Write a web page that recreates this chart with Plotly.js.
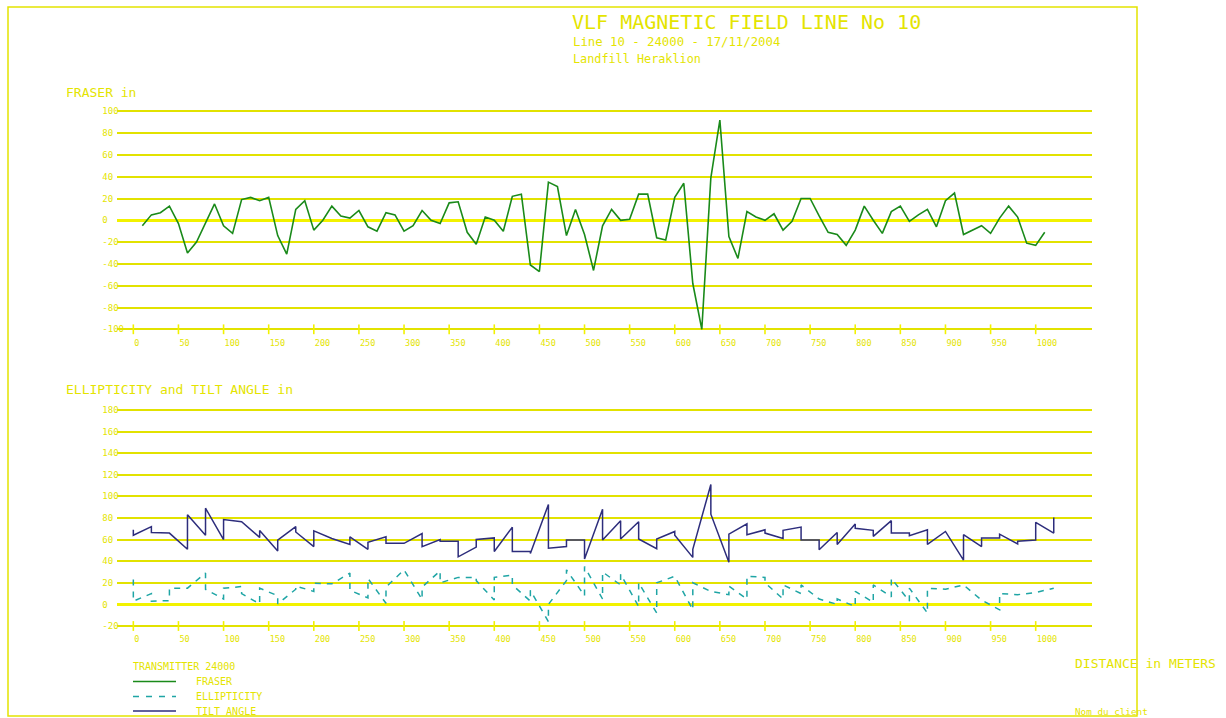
<!DOCTYPE html>
<html><head><meta charset="utf-8">
<script src="https://cdn.plot.ly/plotly-3.0.1.min.js"></script>
<style>html,body{margin:0;padding:0;background:#fff;}#chart{width:1226px;height:718px;}</style>
</head><body><div id="chart"></div>
<script>
// ---------- DATA ----------
const fraserDistance = [10,20,30,40,50,60,70,80,90,100,110,120,130,140,150,160,170,180,190,200,210,220,230,240,250,260,270,280,290,300,310,320,330,340,350,360,370,380,390,400,410,420,430,440,450,460,470,480,490,500,510,520,530,540,550,560,570,580,590,600,610,620,630,640,650,660,670,680,690,700,710,720,730,740,750,760,770,780,790,800,810,820,830,840,850,860,870,880,890,900,910,920,930,940,950,960,970,980,990,1000,1010];
const fraserValues = [-5,5,7,13,-3,-30,-20,-3,15,-5,
  -12,19,21,18,21,-14,-31,10,18,-9,
  0,13,4,2,9,-6,-10,7,5,-10,
  -5,9,0,-3,16,17,-11,-22,3,0,
  -10,22,24,-41,-47,35,31,-14,10,-13,
  -46,-5,10,0,1,24,24,-16,-18,21,
  34,-58,-100,39,92,-15,-35,8,3,0,
  6,-9,-1,20,20,4,-11,-13,-23,-9,
  13,0,-12,8,13,-1,5,10,-6,18,
  25,-13,-9,-5,-12,2,13,3,-21,-23,
  -11];

const tiltDistance = [0,0,20,20,40,60,60,80,80,100,100,120,140,140,160,160,180,180,200,200,220,240,240,260,260,280,280,300,320,320,340,340,360,360,380,380,400,400,420,420,440,440,460,460,480,480,500,500,520,520,540,540,560,560,580,580,600,600,620,620,640,640,660,660,680,680,700,700,720,720,740,740,760,760,780,780,800,800,820,820,840,840,860,860,880,880,900,920,920,940,940,960,960,980,980,1000,1000,1020,1020];
const tiltValues = [69,64,72,66.5,66,51,83,64,89,60,78.5,76.5,62,68.5,49.5,59.5,72,67,53.5,68,61,55.5,62.5,51,57.5,62.5,56.5,56.5,65.5,53.5,60,58.5,58.5,44,53,60,61.5,49,71.5,49,49,47,92.5,52,53.5,59.5,59.5,42,88,59.5,77.5,60.5,76.5,60.5,51.5,60.5,67.5,64,43.5,51,111,83.5,39,65,74.5,64.5,69,66,61,68.5,71.5,59.5,59.5,50.5,66.5,55.5,74.5,70.5,68.5,63,77.5,66,66,63.5,69,55.5,67.5,41,64.5,53.5,61.5,61.5,65,56,58.5,59.5,76,66,80.5];

const ellipDistance = [0,0,20,20,40,40,60,80,80,100,100,120,120,140,140,160,160,180,180,200,200,220,240,240,260,260,280,280,300,320,320,340,340,360,380,380,400,400,420,420,440,440,460,460,480,480,500,500,520,520,540,540,560,560,580,580,600,620,620,640,660,660,680,680,700,700,720,720,740,740,760,780,780,800,800,820,820,840,840,860,860,880,880,900,920,940,960,960,980,1000,1020];
const ellipValues = [23,3,10,3,3.5,15,15,29,14,5,15,16.5,10,0.5,15,8,0.5,14,17,12,19.5,19,29,13,6,24,1,16,32,4.5,16,31,20,25,25,22,4,25,27,18,3,13,-16,0,22,32,8,35,5,30,18,28,-2,20,-8,20,26,-5,20,12,9,17,5,26,25,20,5,18,10,18,5,0,5,-2,12,2,18,7,24,3,15,-8,15,14,18,4,-5,10,9,11,15];

const xTickValues = [0,50,100,150,200,250,300,350,400,450,500,550,600,650,700,750,800,850,900,950,1000];
const xTickLabels = ['0','50','100','150','200','250','300','350','400','450','500','550','600','650','700','750','800','850','900','950','1000'];
const fraserTickValues = [-100,-80,-60,-40,-20,0,20,40,60,80,100];
const fraserTickLabels = ['-100','-80','-60','-40','-20','0','20','40','60','80','100'];
const lowerTickValues = [-20,0,20,40,60,80,100,120,140,160,180];
const lowerTickLabels = ['-20','0','20','40','60','80','100','120','140','160','180'];

// ---------- STYLE / LAYOUT ----------
const W = 1226, H = 718;
const YEL = '#e4e400', GRID = '#e2e200', ZERO = '#f2f200';
const MONO = 'DejaVu Sans Mono, monospace';
const GREEN = '#1a8a1a', NAVY = '#2d2d7c', TEAL = '#1fa5a5';
const NB = '\u00A0';
const fx = p => p / W, fy = p => 1 - p / H;
function rangeFrom(pLo, pHi, vA, pA, vB, pB) {
  const k = (vB - vA) / (pB - pA);
  return [vA + (pLo - pA) * k, vA + (pHi - pA) * k];
}
const xRange = rangeFrom(117, 1092, 0, 133.33, 1000, 1035.7);
const yTopRange = rangeFrom(334, 106, -100, 329.3, 100, 111.3);
const yLowRange = rangeFrom(630, 404, -20, 626, 180, 409.9);

const xTickText = xTickLabels.map(s => NB.repeat(s.length) + s);
const padR = s => s + NB.repeat(4 - s.length);

function xAxis(anchor) {
  return {
    domain: [fx(117), fx(1092)], range: xRange, anchor: anchor,
    tickmode: 'array', tickvals: xTickValues, ticktext: xTickText,
    tickfont: {family: MONO, size: 8.5, color: YEL},
    ticks: '', showgrid: false, zeroline: false, showline: false,
    ticklabelshift: 1, ticklabelstandoff: 2, fixedrange: true
  };
}
function yAxis(anchor, pb, pt, rng, vals, labels) {
  return {
    domain: [fy(pb), fy(pt)], range: rng, anchor: anchor,
    tickmode: 'array', tickvals: vals, ticktext: labels.map(padR),
    tickfont: {family: MONO, size: 9, color: YEL},
    ticks: '', showgrid: true, gridcolor: GRID, gridwidth: 2,
    zeroline: true, zerolinecolor: ZERO, zerolinewidth: 3.2,
    showline: false, ticklabelstandoff: -8, fixedrange: true
  };
}

const traces = [
  {x: fraserDistance, y: fraserValues, xaxis: 'x', yaxis: 'y', type: 'scatter', mode: 'lines',
   line: {color: GREEN, width: 1.6}, hoverinfo: 'skip', name: 'FRASER'},
  {x: ellipDistance, y: ellipValues, xaxis: 'x2', yaxis: 'y2', type: 'scatter', mode: 'lines',
   line: {color: TEAL, width: 1.5, dash: '6px,6px'}, hoverinfo: 'skip', name: 'ELLIPTICITY'},
  {x: tiltDistance, y: tiltValues, xaxis: 'x2', yaxis: 'y2', type: 'scatter', mode: 'lines',
   line: {color: NAVY, width: 1.5}, hoverinfo: 'skip', name: 'TILT ANGLE'},
  {x: xTickValues, y: xTickValues.map(() => fraserTickValues[0]), xaxis: 'x', yaxis: 'y', type: 'scatter',
   mode: 'markers', marker: {symbol: 'line-ns', size: 7, color: ZERO, line: {color: ZERO, width: 1.6}},
   cliponaxis: false, hoverinfo: 'skip'},
  {x: xTickValues, y: xTickValues.map(() => lowerTickValues[0]), xaxis: 'x2', yaxis: 'y2', type: 'scatter',
   mode: 'markers', marker: {symbol: 'line-ns', size: 7, color: ZERO, line: {color: ZERO, width: 1.6}},
   cliponaxis: false, hoverinfo: 'skip'}
];

function txt(text, x, y, size) {
  return {text: text, x: fx(x), y: fy(y), xref: 'paper', yref: 'paper', xanchor: 'left', yanchor: 'middle',
          showarrow: false, borderpad: 0, font: {family: MONO, size: size, color: YEL}};
}
const annotations = [
  txt('Line 10 - 24000 - 17/11/2004', 572, 42, 12.3),
  txt('Landfill Heraklion', 572, 59, 11.8),
  txt('FRASER in', 65, 92, 13),
  txt('ELLIPTICITY and TILT ANGLE in', 65, 389, 13),
  txt('TRANSMITTER 24000', 132, 666, 10),
  txt('FRASER', 195, 681.5, 10),
  txt('ELLIPTICITY', 195, 696.5, 10),
  txt('TILT ANGLE', 195, 711, 10),
  txt('DISTANCE in METERS', 1074, 663.5, 13),
  txt('Nom du client', 1074, 711, 9.3)
];
function hline(x0, x1, y, color, dash) {
  return {type: 'line', xref: 'paper', yref: 'paper', x0: fx(x0), x1: fx(x1), y0: fy(y), y1: fy(y),
          line: {color: color, width: 1.6, dash: dash || 'solid'}};
}
const shapes = [
  {type: 'rect', xref: 'paper', yref: 'paper', x0: fx(8), x1: fx(1137), y0: fy(716), y1: fy(7),
   line: {color: YEL, width: 1.5}, fillcolor: 'rgba(0,0,0,0)'},
  hline(133, 176, 681.5, GREEN),
  hline(133, 176, 696.5, TEAL, '6px,7px'),
  hline(133, 176, 711, NAVY)
];

const layout = {
  width: W, height: H, margin: {l: 0, r: 0, t: 0, b: 0},
  paper_bgcolor: '#ffffff', plot_bgcolor: 'rgba(0,0,0,0)', showlegend: false,
  title: {text: 'VLF MAGNETIC FIELD LINE No 10', x: fx(572), xref: 'paper', xanchor: 'left',
          y: fy(22), yref: 'paper', yanchor: 'middle', font: {family: MONO, size: 20, color: YEL}},
  xaxis: xAxis('y'),
  yaxis: yAxis('x', 334, 106, yTopRange, fraserTickValues, fraserTickLabels),
  xaxis2: xAxis('y2'),
  yaxis2: yAxis('x2', 630, 404, yLowRange, lowerTickValues, lowerTickLabels),
  annotations: annotations, shapes: shapes
};
Plotly.newPlot('chart', traces, layout, {displayModeBar: false, staticPlot: true});
</script></body></html>
